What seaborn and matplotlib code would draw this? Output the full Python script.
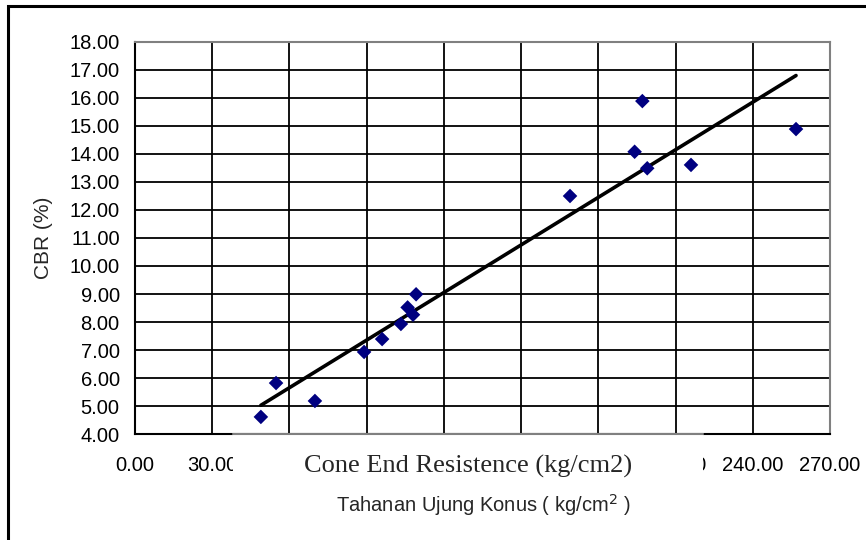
import numpy as np
import pandas as pd
import matplotlib
matplotlib.use("Agg")
import matplotlib.pyplot as plt
import matplotlib.ticker as mticker
from matplotlib.patches import Rectangle
from matplotlib.lines import Line2D
import seaborn as sns

# data
tahanan = [48.9, 54.8, 69.9, 89.0, 96.0, 103.3, 105.9, 108.0, 109.2,
           169.0, 194.1, 197.1, 199.0, 216.0, 256.8]
cbr = [4.61, 5.82, 5.18, 6.93, 7.39, 7.93, 8.52, 8.26, 8.99,
       12.50, 14.08, 15.89, 13.49, 13.61, 14.89]
x_ticks = [0, 30, 60, 90, 120, 150, 180, 210, 240, 270]
y_ticks = list(range(4, 19))
# labels 60..180 sit fully under the white caption box
x_labels = ["0.00", "30.00", "", "", "", "", "", "210.00", "240.00", "270.00"]

df = pd.DataFrame({"tahanan": tahanan, "cbr": cbr})

sns.set_style("white")
plt.rcParams["font.family"] = ["Liberation Sans", "DejaVu Sans"]

fig = plt.figure(figsize=(8.66, 5.40), dpi=100)
ax = fig.add_axes([135 / 866, 106 / 540, 695 / 866, 392 / 540])

# grid
for xv in x_ticks[1:-1]:
    ax.axvline(xv, color="black", lw=1.3, zorder=1)
for yv in y_ticks[1:-1]:
    ax.axhline(yv, color="black", lw=1.3, zorder=1)

sns.regplot(data=df, x="tahanan", y="cbr", scatter=False, ci=None, ax=ax,
            line_kws={"color": "black", "lw": 2.6, "zorder": 3})
sns.scatterplot(data=df, x="tahanan", y="cbr", marker="D", color="#000080",
                s=55, edgecolor="none", ax=ax, zorder=4)

ax.set_xlim(0, 270)
ax.set_ylim(4, 18)
ax.set_xticks(x_ticks)
ax.set_xticklabels(x_labels)
ax.set_yticks(y_ticks)
ax.yaxis.set_major_formatter(mticker.FormatStrFormatter("%.2f"))
ax.tick_params(axis="both", direction="out", length=7, width=1.3,
               labelsize=14.5, colors="black", pad=4)
ax.tick_params(axis="x", pad=9)

for side in ["top", "right"]:
    ax.spines[side].set_color("#808080")
    ax.spines[side].set_linewidth(1.5)
for side in ["left", "bottom"]:
    ax.spines[side].set_color("black")
    ax.spines[side].set_linewidth(1.5)

ax.set_xlabel("")
ax.set_ylabel("CBR (%)", fontsize=15, labelpad=12)

# white box over the x tick labels with serif caption
x0 = (233 - 135) / 695
x1 = (703 - 135) / 695
ax.add_patch(Rectangle((x0, -0.13), x1 - x0, 0.127, transform=ax.transAxes,
                       facecolor="white", edgecolor="none", clip_on=False,
                       zorder=10))
ax.add_line(Line2D([x0, x1], [0, 0], transform=ax.transAxes, color="#808080",
                   lw=1.5, clip_on=False, zorder=11))
fig.text(468 / 866, 1 - 466 / 540, "Cone End Resistence (kg/cm2)",
         family=["Liberation Serif", "DejaVu Serif"], fontsize=19,
         ha="center", va="center", zorder=12)

fig.text(483 / 866, 1 - 505 / 540, "Tahanan Ujung Konus ( kg/cm$^{2}$ )",
         fontsize=14.5, ha="center", va="center")

# outer frame
fig.add_artist(Rectangle((8 / 866, -0.2), 1.2, 1.2 - 6 / 540,
                         transform=fig.transFigure, fill=False,
                         edgecolor="black", lw=2.2))

fig.savefig("out.png", dpi=100, facecolor="white")
